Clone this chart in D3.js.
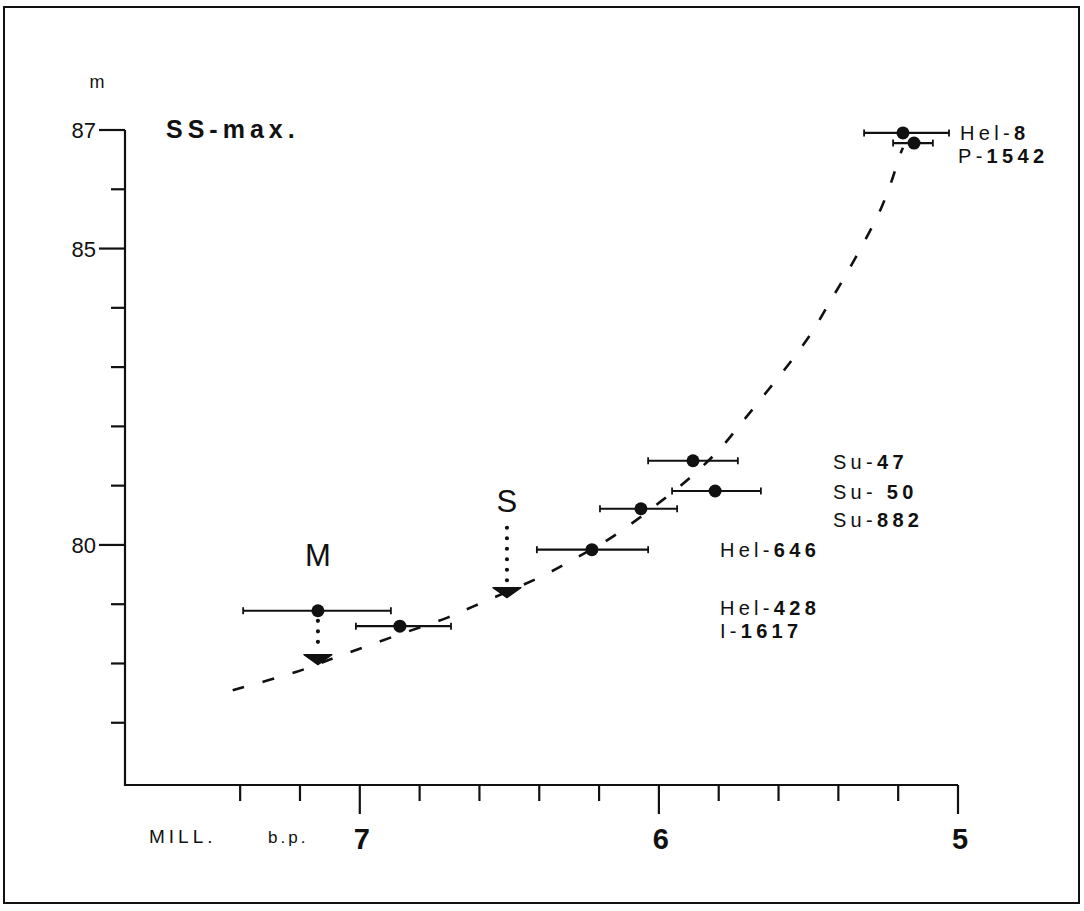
<!DOCTYPE html>
<html><head><meta charset="utf-8">
<script src="https://cdn.jsdelivr.net/npm/d3@7"></script>
<style>
body{margin:0;background:#fff}
svg{display:block}
text{font-family:"Liberation Sans",Arial,Helvetica,sans-serif;fill:#111}
</style>
</head><body><svg id="c" width="1084" height="911"></svg>
<script>
// ---- data (age in thousand years b.p. / 1000, elevation in m) ----
const sampleIds   = ["Hel-8","P-1542","Su-47","Su-50","Su-882","Hel-646","M","I-1617"];
const ages        = [5.184, 5.147, 5.886, 5.812, 6.060, 6.224, 7.140, 6.866];
const ageOld      = [5.314, 5.217, 6.036, 5.956, 6.197, 6.408, 7.390, 7.013];
const ageYoung    = [5.030, 5.084, 5.736, 5.659, 5.939, 6.036, 6.896, 6.695];
const elevations  = [86.95, 86.78, 81.42, 80.91, 80.61, 79.92, 78.89, 78.63];

// dashed shore-displacement curve
const curveAges = [7.425,7.211,7.077,6.873,6.709,6.622,6.388,6.284,6.154,5.987,5.886,5.796,5.719,5.632,5.552,5.488,5.425,5.371,5.314,5.264,5.224,5.194,5.184];
const curveElev = [77.55,77.86,78.11,78.48,78.77,78.96,79.48,79.76,80.14,80.76,81.18,81.62,82.09,82.63,83.14,83.59,84.13,84.59,85.11,85.60,86.11,86.58,86.70];

// lowering arrows M and S
const arrowNames   = ["M","S"];
const arrowAges    = [7.140, 6.508];
const arrowTop     = [78.72, 80.29];
const arrowTip     = [77.98, 79.11];
const arrowLabelEl = [79.64, 80.56];

// sample labels at right
const labelPrefix = ["Hel-","P-","Su-","Su- ","Su-","Hel-","Hel-","I-"];
const labelNumber = ["8","1542","47","50","882","646","428","1617"];
const labelAges   = [4.993, 5.000, 5.418, 5.418, 5.418, 5.796, 5.796, 5.796];
const labelElev   = [86.83, 86.44, 81.28, 80.78, 80.30, 79.80, 78.82, 78.43];

// axes ticks
const xTicks = [7.4,7.2,7.0,6.8,6.6,6.4,6.2,6.0,5.8,5.6,5.4,5.2,5.0];
const xMajor = [7,6,5];
const yTicks = [77,78,79,80,81,82,83,84,85,86,87];
const yMajor = [80,85,87];

// ---- drawing ----
const svg = d3.select("#c");
const x = d3.scaleLinear().domain([7.785, 5.0]).range([125, 958]);
const y = d3.scaleLinear().domain([75.95, 87]).range([785, 130]);
const ink = "#111";

// frame
svg.append("rect").attr("x",4).attr("y",7).attr("width",1075).attr("height",896)
  .attr("fill","none").attr("stroke",ink).attr("stroke-width",2);

// axes lines
svg.append("path").attr("d",`M${x(7.785)},${y(87)}V${y(75.95)}H${x(5)}`)
  .attr("fill","none").attr("stroke",ink).attr("stroke-width",2.2);

const isMaj = (arr,v)=>arr.some(m=>Math.abs(m-v)<1e-6);
// y ticks
svg.selectAll(".yt").data(yTicks).join("line")
  .attr("x1",d=>x(7.785)-(isMaj(yMajor,d)?26:14)).attr("x2",x(7.785))
  .attr("y1",d=>y(d)).attr("y2",d=>y(d)).attr("stroke",ink).attr("stroke-width",2.2);
svg.selectAll(".yl").data(yMajor).join("text")
  .attr("x",x(7.785)-29).attr("y",d=>y(d)+8).attr("text-anchor","end")
  .attr("font-size",22).text(d=>d);
svg.append("text").attr("x",97).attr("y",88).attr("text-anchor","middle")
  .attr("font-size",18).text("m");

// x ticks
svg.selectAll(".xt").data(xTicks).join("line")
  .attr("x1",d=>x(d)).attr("x2",d=>x(d))
  .attr("y1",y(75.95)).attr("y2",d=>y(75.95)+(isMaj(xMajor,d)?29:16))
  .attr("stroke",ink).attr("stroke-width",2.2);
svg.selectAll(".xl").data(xMajor).join("text")
  .attr("x",d=>x(d)+2).attr("y",849).attr("text-anchor","middle")
  .attr("font-size",29).attr("font-weight","bold").text(d=>d);
svg.append("text").attr("x",149).attr("y",843).attr("font-size",19)
  .attr("letter-spacing",4).text("MILL.");
svg.append("text").attr("x",268).attr("y",843).attr("font-size",17)
  .attr("letter-spacing",3).text("b.p.");

// title
svg.append("text").attr("x",166).attr("y",138).attr("font-size",25)
  .attr("font-weight","bold").attr("letter-spacing",5).text("SS-max.");

// dashed curve
const line = d3.line().x(d=>x(d[0])).y(d=>y(d[1])).curve(d3.curveCatmullRom);
svg.append("path").datum(curveAges.map((a,i)=>[a,curveElev[i]]))
  .attr("d",line).attr("fill","none").attr("stroke",ink)
  .attr("stroke-width",2.6).attr("stroke-dasharray","12,19");

// error bars and dots
const pts = sampleIds.map((id,i)=>({id,a:ages[i],lo:ageOld[i],hi:ageYoung[i],e:elevations[i]}));
const g = svg.append("g");
g.selectAll(".eb").data(pts).join("line")
  .attr("x1",d=>x(d.lo)).attr("x2",d=>x(d.hi))
  .attr("y1",d=>y(d.e)).attr("y2",d=>y(d.e)).attr("stroke",ink).attr("stroke-width",2.2);
g.selectAll(".c1").data(pts).join("line")
  .attr("x1",d=>x(d.lo)).attr("x2",d=>x(d.lo))
  .attr("y1",d=>y(d.e)-3.5).attr("y2",d=>y(d.e)+3.5).attr("stroke",ink).attr("stroke-width",1.8);
g.selectAll(".c2").data(pts).join("line")
  .attr("x1",d=>x(d.hi)).attr("x2",d=>x(d.hi))
  .attr("y1",d=>y(d.e)-3.5).attr("y2",d=>y(d.e)+3.5).attr("stroke",ink).attr("stroke-width",1.8);
g.selectAll(".dot").data(pts).join("circle")
  .attr("cx",d=>x(d.a)).attr("cy",d=>y(d.e)).attr("r",6.5).attr("fill",ink);

// arrows
arrowNames.forEach((n,i)=>{
  const ax = x(arrowAges[i]);
  const top = y(arrowTop[i]), tip = y(arrowTip[i]);
  svg.append("line").attr("x1",ax).attr("x2",ax).attr("y1",top).attr("y2",tip-13)
    .attr("stroke",ink).attr("stroke-width",4.2).attr("stroke-linecap","round")
    .attr("stroke-dasharray","0,10.5");
  svg.append("path")
    .attr("d",`M${ax-14},${tip-10}L${ax+14},${tip-10}L${ax},${tip}Z`)
    .attr("fill",ink).attr("stroke",ink).attr("stroke-width",1.2).attr("stroke-linejoin","round");
  svg.append("text").attr("x",ax).attr("y",y(arrowLabelEl[i])).attr("text-anchor","middle")
    .attr("font-size",31).text(n);
});

// sample labels
labelPrefix.forEach((p,i)=>{
  const t = svg.append("text").attr("x",x(labelAges[i])).attr("y",y(labelElev[i]))
    .attr("font-size",20).attr("letter-spacing",4.3);
  t.append("tspan").text(p);
  t.append("tspan").attr("font-weight","bold").text(labelNumber[i]);
});
</script>
</body></html>
